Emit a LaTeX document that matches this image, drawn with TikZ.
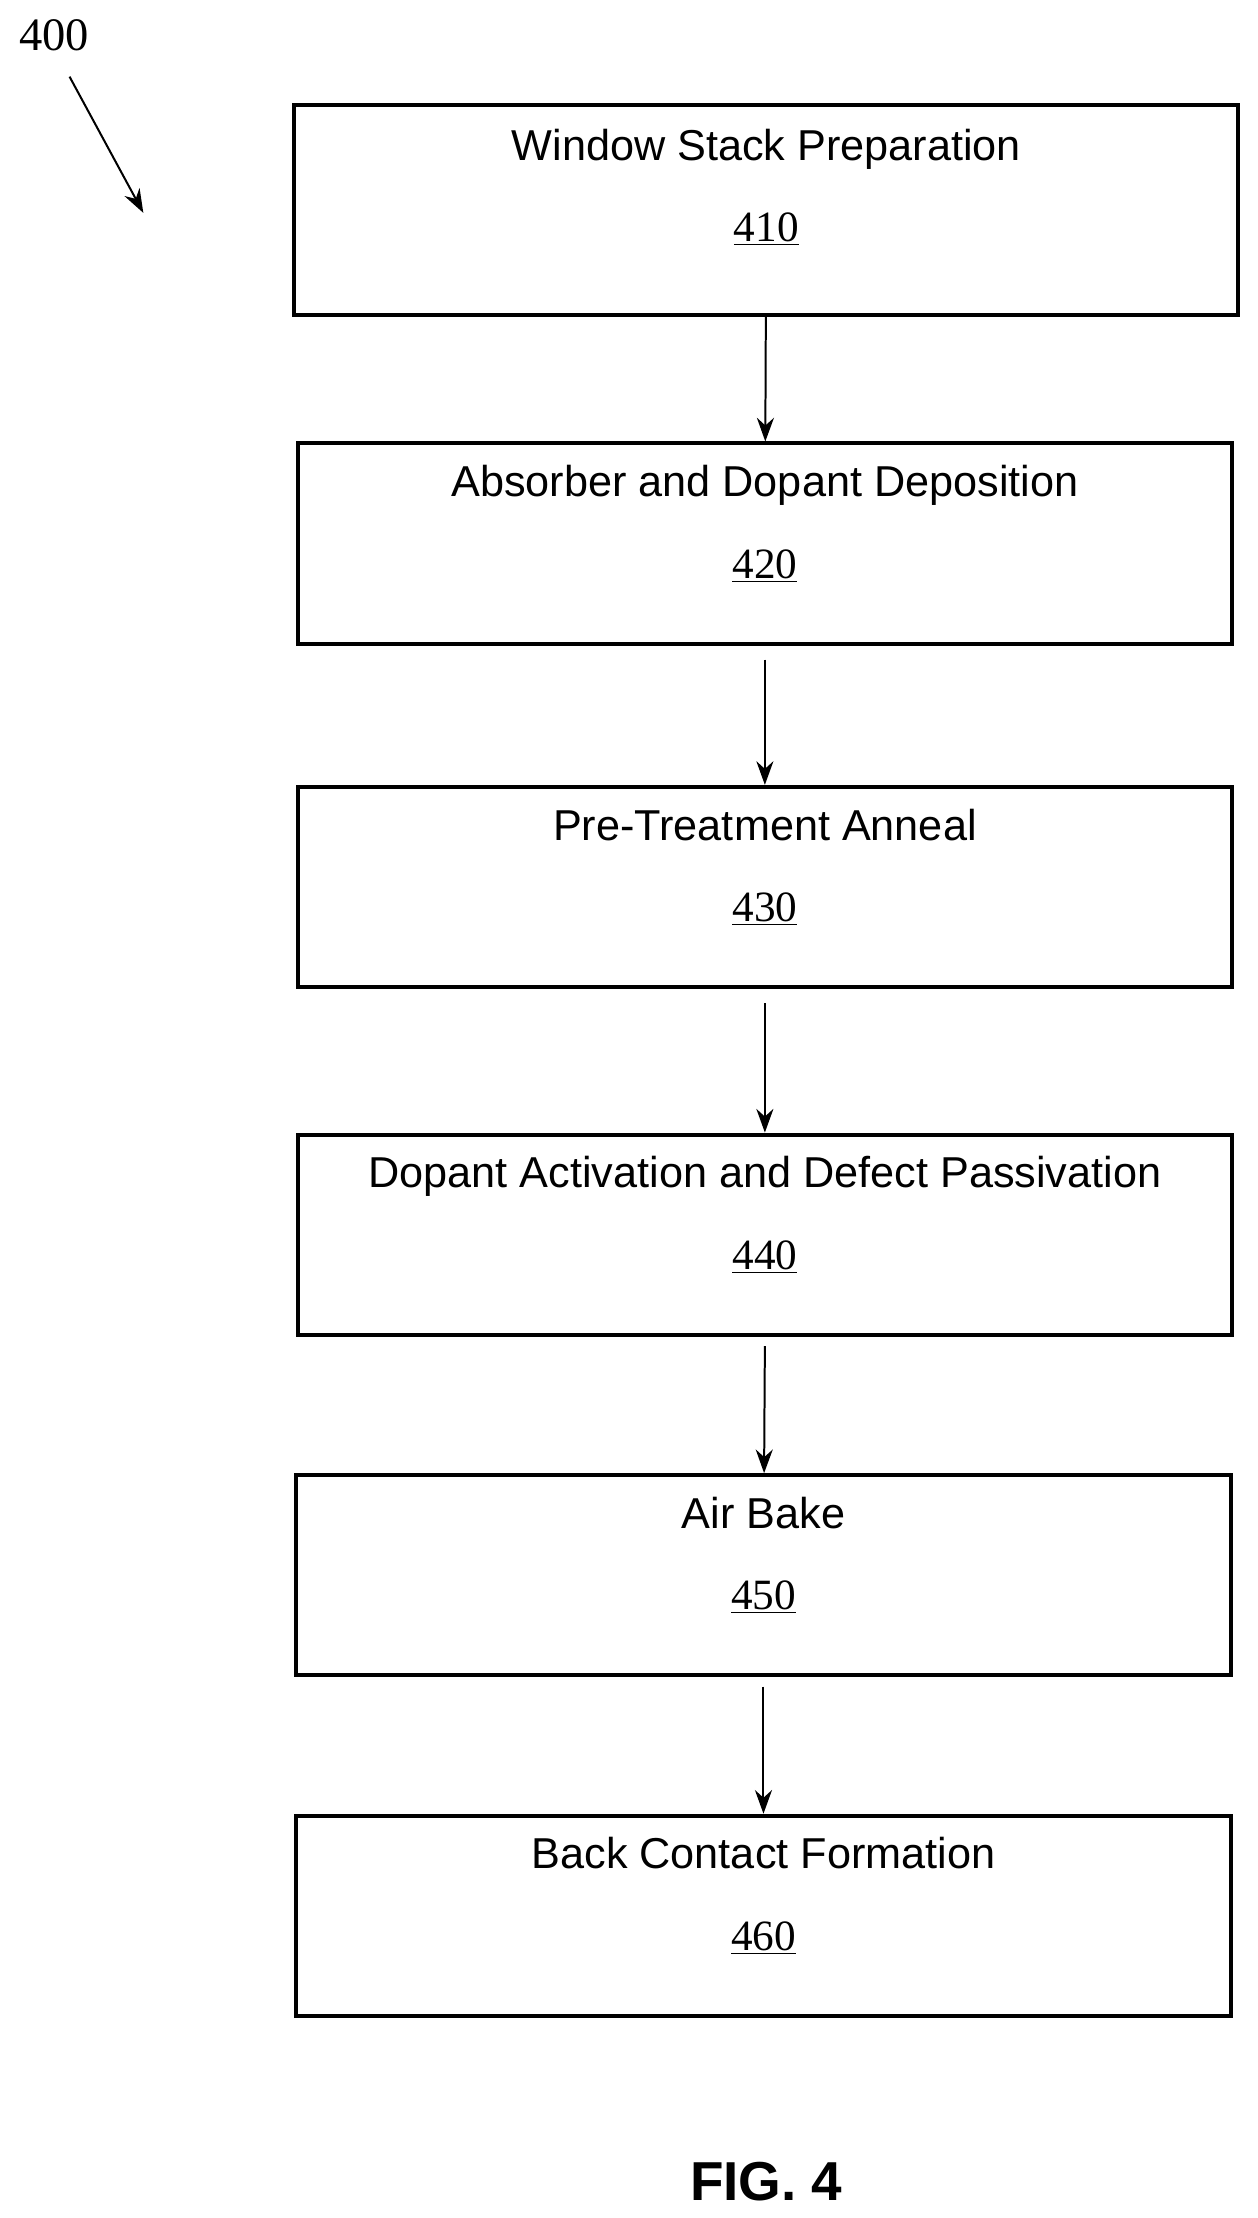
\documentclass[tikz,border=0pt]{standalone}
\usepackage{fontspec}
\setmainfont{Liberation Serif}
\setsansfont{Liberation Sans}
\usetikzlibrary{positioning,arrows.meta}
\begin{document}
\begin{tikzpicture}[x=0.03cm,y=-0.03cm,>={Stealth[length=0.5cm,width=0.36cm]}]
	\tikzstyle{stage}=[draw,line width=2.4pt,minimum width=19.75cm,minimum height=4.23cm,inner sep=0pt]
	\tikzstyle{txt}=[align=center,font=\fontsize{26}{49}\selectfont]
	\useasboundingbox (0,0) rectangle (886,1563);
		\node[stage, minimum width=19.95cm, minimum height=4.44cm] (s1) at (540,148) {};
		\node[stage] (s2) at (539,383) {};
		\node[stage] (s3) at (539,625) {};
		\node[stage] (s4) at (539,870) {};
		\node[stage] (s5) at (538,1110) {};
		\node[stage] (s6) at (538,1350) {};
		\node[txt] (t1) at (540,132) {\sffamily Window Stack Preparation\\\underline{410}};
		\node[txt] (t2) at (539,369) {\sffamily Absorber and Dopant Deposition\\\underline{420}};
		\node[txt] (t3) at (539,611) {\sffamily Pre-Treatment Anneal\\\underline{430}};
		\node[txt] (t4) at (539,856) {\sffamily Dopant Activation and Defect Passivation\\\underline{440}};
		\node[txt] (t5) at (538,1096) {\sffamily Air Bake\\\underline{450}};
		\node[txt] (t6) at (538,1336) {\sffamily Back Contact Formation\\\underline{460}};
			\draw[->,line width=1.2pt] (s1) -- (s2);
			\draw[->,line width=1.2pt] ([yshift=-0.3cm]s2.south) -- (s3);
			\draw[->,line width=1.2pt] ([yshift=-0.3cm]s3.south) -- (s4);
			\draw[->,line width=1.2pt] ([yshift=-0.2cm]s4.south) -- (s5);
			\draw[->,line width=1.2pt] ([yshift=-0.2cm]s5.south) -- (s6);
			\node[font=\fontsize{28}{32}\selectfont] (ref) at (38,25) {400};
			\coordinate (refstart) at (49,54);
			\coordinate (refend) at (101,150);
			\draw[->,line width=1.2pt] (refstart) -- (refend);
			\node[font=\sffamily\bfseries\fontsize{33}{38}\selectfont] (fig) at (540,1537) {FIG. 4};
\end{tikzpicture}
\end{document}
